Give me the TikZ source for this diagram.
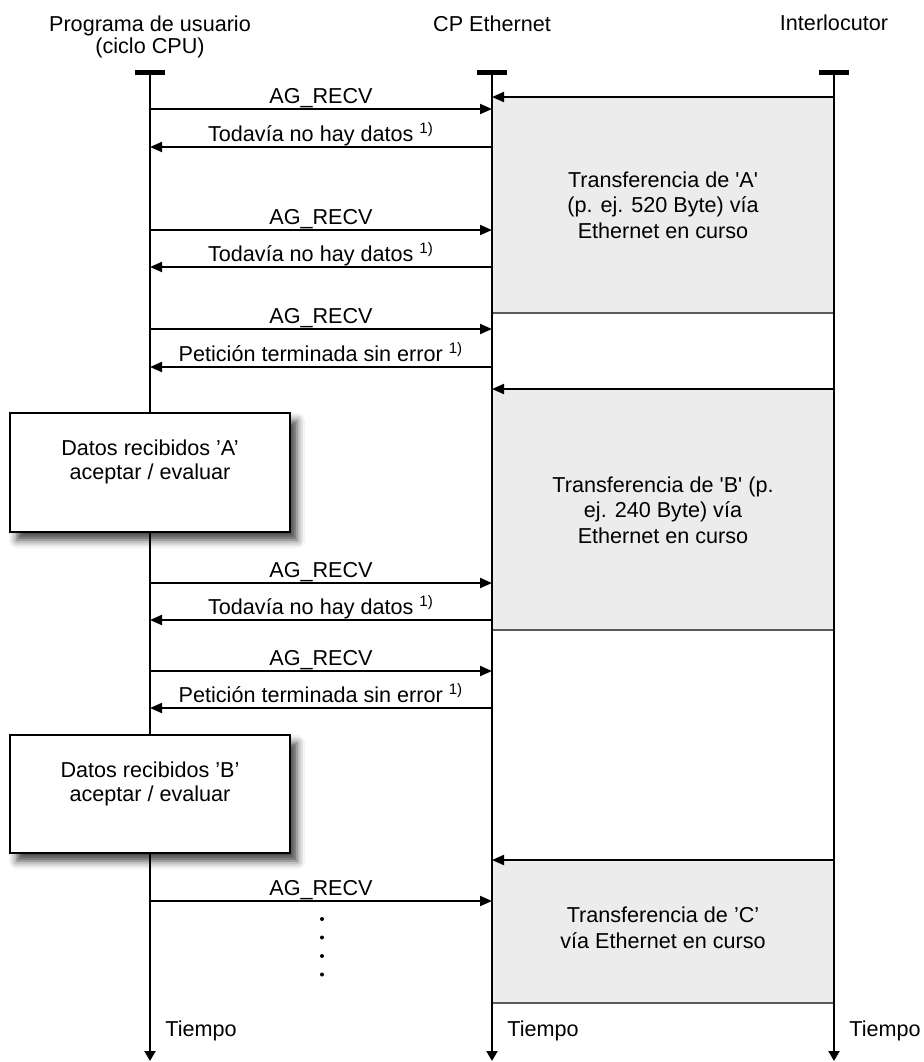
\documentclass[tikz,border=0pt]{standalone}
\usepackage{fontspec}
\setmainfont{Liberation Sans}
\usetikzlibrary{arrows.meta,shadows.blur}

\definecolor{boxgray}{RGB}{235,236,235}
\definecolor{edgegray}{RGB}{90,90,90}

\tikzset{
  every node/.style={font=\fontsize{10.8pt}{12.75pt}\selectfont, inner sep=0pt},
  lifeline/.style={line width=1pt, -{Triangle[length=5pt,width=5.5pt]}},
  headbar/.style={line width=2.5pt},
  msg/.style={line width=1pt, -{Triangle[length=6pt,width=5pt]}},
  msglabel/.style={midway, anchor=base, yshift=3pt},
  transfer/.style={fill=boxgray},
  transferedge/.style={draw=edgegray, line width=0.75pt},
  databox/.style={draw, fill=white, line width=1pt, minimum width=140pt, minimum height=59.5pt,
    blur shadow={shadow xshift=3.5pt, shadow yshift=-4pt, shadow blur radius=4pt, shadow opacity=75}},
}

\begin{document}
\begin{tikzpicture}[x=0.5pt, y=-0.5pt]
\useasboundingbox (0,0) rectangle (924,1062);

% heads of the three lifelines
\coordinate (usr) at (150,72);
\coordinate (cp) at (492,72);
\coordinate (peer) at (834,72);
\coordinate (tend) at (0,1061);
\coordinate (tlbl) at (0,1031);

\node[anchor=north, align=center, font=\fontsize{10.8pt}{11pt}\selectfont] (hdusr) at (150,15) {Programa de usuario\\(ciclo CPU)};
\node[anchor=north] (hdcp) at (492,15) {CP Ethernet};
\node[anchor=north] (hdpeer) at (834,14) {Interlocutor};

% transfers over Ethernet
\fill[transfer] (492,97) rectangle (834,313);
\draw[transferedge] (492,313) -- (834,313);
\node[align=center] (trA) at (663,205) {Transferencia de \textquotesingle A\textquotesingle\\(p. ej. 520 Byte) vía\\Ethernet en curso};
\fill[transfer] (492,389) rectangle (834,630);
\draw[transferedge] (492,630) -- (834,630);
\node[align=center] (trB) at (663,510) {Transferencia de \textquotesingle B\textquotesingle{} (p.\\ej. 240 Byte) vía\\Ethernet en curso};
\fill[transfer] (492,860) rectangle (834,1003);
\draw[transferedge] (492,1003) -- (834,1003);
\node[align=center] (trC) at (663,928) {Transferencia de ’C’\\vía Ethernet en curso};

% lifelines
\foreach \p in {usr,cp,peer} {
  \draw[headbar] ([xshift=-7.5pt]\p) -- ([xshift=7.5pt]\p);
  \draw[lifeline] (\p) -- (\p |- tend);
  \node[anchor=west] (time\p) at ([xshift=7.5pt]\p |- tlbl) {Tiempo};
}

% data sent by the partner
\foreach \y [count=\i] in {97,389,860} {
  \coordinate (snd\i) at (834,\y);
  \coordinate (rcv\i) at (492,\y);
  \draw[msg] (snd\i) -- (rcv\i);
}

% calls of the user program
\foreach \y [count=\i] in {109,230,329,583,671,901} {
  \coordinate (rqa\i) at (150,\y);
  \coordinate (rqb\i) at (492,\y);
  \draw[msg] (rqa\i) -- node[msglabel] {AG\_RECV} (rqb\i);
}

% answers of the CP
\foreach \y/\txt [count=\i] in {147/Todavía no hay datos, 267/Todavía no hay datos,
    367/Petición terminada sin error, 620/Todavía no hay datos, 708/Petición terminada sin error} {
  \coordinate (ans\i) at (492,\y);
  \coordinate (ret\i) at (150,\y);
  \draw[msg] (ans\i) -- node[msglabel] {\txt\ \textsuperscript{1)}} (ret\i);
}

% evaluation in the user program
\node[databox] (datA) at (150,472.5) {};
\node[anchor=north, align=center, yshift=-13.5pt, font=\fontsize{10.8pt}{12pt}\selectfont] (datAtxt) at (datA.north) {Datos recibidos ’A’\\aceptar / evaluar};
\node[databox, minimum height=59pt] (datB) at (150,794) {};
\node[anchor=north, align=center, yshift=-13.5pt, font=\fontsize{10.8pt}{12pt}\selectfont] (datBtxt) at (datB.north) {Datos recibidos ’B’\\aceptar / evaluar};

% and so on
\foreach \y in {919,937.5,956,974.5}
  \fill (322,\y) circle (1pt);
\end{tikzpicture}
\end{document}
